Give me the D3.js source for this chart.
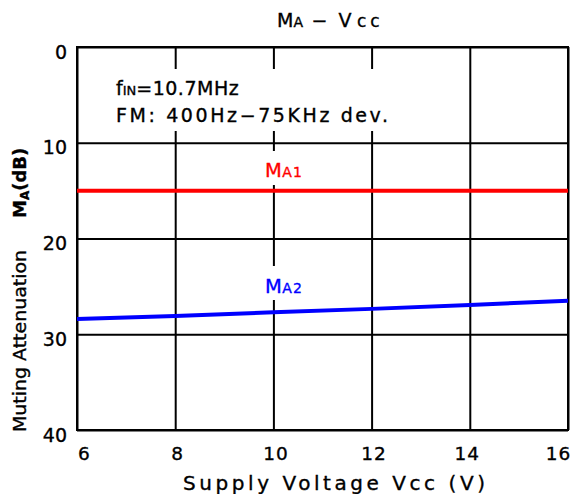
<!DOCTYPE html>
<html><head><meta charset="utf-8">
<script src="https://cdn.jsdelivr.net/npm/d3@7/dist/d3.min.js"></script>
<style>
body{margin:0;background:#fff;}
text{font-family:"DejaVu Sans","Liberation Sans",Arial,sans-serif;fill:#000;stroke:#000;stroke-width:0.35px;}
</style></head>
<body><svg id="c" width="570" height="494"></svg>
<script>
const voltages = [6, 8, 10, 12, 14, 16];
const ma1 = [15, 15, 15, 15, 15, 15];
const ma2 = [28.4, 28.1, 27.7, 27.35, 26.95, 26.5];
const xTicks = [6, 8, 10, 12, 14, 16];
const yTicks = [0, 10, 20, 30, 40];
const FONT = "DejaVu Sans, Liberation Sans, Arial, sans-serif";

const svg = d3.select("#c");
const L = 77, R = 568, T = 47, B = 430;
const x = d3.scaleLinear().domain([6, 16]).range([L, R]);
const y = d3.scaleLinear().domain([0, 40]).range([T, B]);

// grid
const g = svg.append("g");
g.append("g").attr("transform", `translate(0,${B})`)
  .call(d3.axisBottom(x).tickValues(xTicks).tickSize(-(B - T)).tickFormat(""))
  .call(s => s.select(".domain").remove())
  .selectAll("line").attr("stroke", "#000").attr("stroke-width", 2);
g.append("g").attr("transform", `translate(${L},0)`)
  .call(d3.axisLeft(y).tickValues(yTicks).tickSize(-(R - L)).tickFormat(""))
  .call(s => s.select(".domain").remove())
  .selectAll("line").attr("stroke", "#000").attr("stroke-width", 2);
g.append("rect").attr("x", L).attr("y", T).attr("width", R - L).attr("height", B - T)
  .attr("fill", "none").attr("stroke", "#000").attr("stroke-width", 2);

// white gaps behind annotations
svg.append("rect").attr("x", 100).attr("y", 69).attr("width", 300).attr("height", 62).attr("fill", "#fff");
svg.append("rect").attr("x", 262).attr("y", 151).attr("width", 44).attr("height", 34).attr("fill", "#fff");
svg.append("rect").attr("x", 262).attr("y", 266).attr("width", 44).attr("height", 34).attr("fill", "#fff");

// lines
const line = d3.line().x((d, i) => x(voltages[i])).y(d => y(d));
svg.append("path").datum(ma1).attr("d", line).attr("fill", "none").attr("stroke", "#ff0000").attr("stroke-width", 4);
svg.append("path").datum(ma2).attr("d", line).attr("fill", "none").attr("stroke", "#0000ff").attr("stroke-width", 4);

// series labels
function seriesLabel(xp, yp, sub, col) {
  const t = svg.append("text").attr("x", xp).attr("y", yp).style("fill", col).style("stroke", col);
  t.append("tspan").text("M").attr("font-size", 19.5);
  t.append("tspan").text(sub).attr("font-size", 14).attr("dx", 0.5).attr("letter-spacing", 1);
}
seriesLabel(265, 177, "A1", "#ff0000");
seriesLabel(265, 292.5, "A2", "#0000ff");

// tick labels
const xa = svg.append("g").attr("transform", `translate(0,${B})`)
  .call(d3.axisBottom(x).tickValues(xTicks).tickSize(0).tickPadding(17).tickFormat(d3.format("d")));
xa.select(".domain").remove();
xa.selectAll("text").attr("font-size", 18.5).attr("font-family", FONT)
  .attr("letter-spacing", 1)
  .attr("dx", d => d === 6 ? 7 : d === 16 ? -10 : d === 14 ? -3 : 2);
const ya = svg.append("g").attr("transform", `translate(${L},0)`)
  .call(d3.axisLeft(y).tickValues(yTicks).tickSize(0).tickPadding(10));
ya.select(".domain").remove();
ya.selectAll("text").attr("font-size", 19).attr("font-family", FONT)
  .attr("dy", "0.58em");

// title
const tt = svg.append("text").attr("x", 277).attr("y", 27);
tt.append("tspan").text("M").attr("font-size", 19);
tt.append("tspan").text("A").attr("font-size", 14);
tt.append("tspan").text(" − V").attr("font-size", 19).attr("letter-spacing", 2.5);
tt.append("tspan").text("cc").attr("font-size", 17).attr("letter-spacing", 4).attr("dx", 3);

// annotation
const a1 = svg.append("text").attr("x", 116).attr("y", 95);
a1.append("tspan").text("f").attr("font-size", 19);
a1.append("tspan").text("IN").attr("font-size", 13);
a1.append("tspan").text("=10.7MHz").attr("font-size", 19).attr("letter-spacing", 0.5);
svg.append("text").attr("x", 116).attr("y", 122).attr("font-size", 19)
  .attr("textLength", 272).attr("lengthAdjust", "spacing").text("FM: 400Hz−75KHz dev.");

// axis titles
svg.append("text").attr("x", 183).attr("y", 490).attr("font-size", 20)
  .attr("textLength", 302).attr("lengthAdjust", "spacing").text("Supply Voltage Vcc (V)");
const yt = svg.append("text").attr("transform", "translate(26,432) rotate(-90)").attr("font-size", 18);
yt.append("tspan").text("Muting Attenuation").attr("textLength", 182).attr("lengthAdjust", "spacingAndGlyphs");
yt.append("tspan").text("M").attr("dx", 32).attr("font-weight", "bold");
yt.append("tspan").text("A").attr("font-size", 12).attr("font-weight", "bold").attr("dy", 3);
yt.append("tspan").text("(dB)").attr("font-weight", "bold").attr("dy", -3);
</script></body></html>
